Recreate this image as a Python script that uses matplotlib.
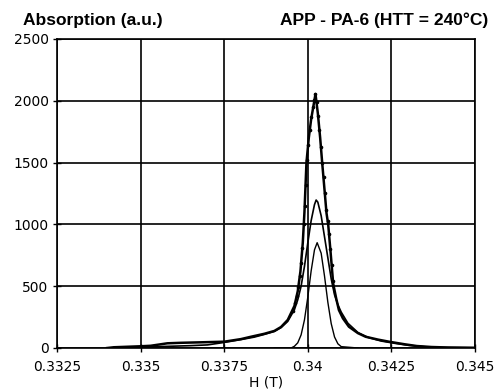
import matplotlib
matplotlib.use("Agg")
import matplotlib.pyplot as plt

# Magnetic field (T) and absorption (a.u.) of the overall EPR line
total_h = [0.3340, 0.3342, 0.3346, 0.3350, 0.3353, 0.3356, 0.3358, 0.3362, 0.3368,
           0.3375, 0.3380, 0.3383, 0.3387, 0.3390, 0.3392, 0.3394, 0.3396, 0.3397,
           0.33978, 0.33985, 0.33990, 0.33996, 0.34003, 0.34010, 0.34017, 0.34023,
           0.34030, 0.34037, 0.34043, 0.34050, 0.34056, 0.34061, 0.34068, 0.34076,
           0.34085, 0.34093, 0.34105, 0.34123, 0.34150, 0.34173, 0.34210, 0.34243,
           0.34290, 0.34326, 0.3437, 0.3442, 0.3450]
total_abs = [0, 6, 10, 14, 18, 30, 38, 42, 46,
             51, 72, 91, 115, 138, 170, 227, 340, 460,
             620, 850, 1100, 1500, 1700, 1850, 1960, 2055,
             1900, 1700, 1500, 1280, 1090, 1000, 780, 520,
             400, 307, 240, 172, 120, 91, 68, 51,
             30, 16, 8, 4, 2]

# Measured points around the resonance
meas_h = [0.33955, 0.33962, 0.33967, 0.33972, 0.33976, 0.33980, 0.33984, 0.33988,
          0.33991, 0.33994, 0.33997, 0.34001, 0.34006, 0.34011, 0.34016, 0.34020,
          0.34023, 0.34027, 0.34031, 0.34035, 0.34039, 0.34043, 0.34047, 0.34051,
          0.34055, 0.34059, 0.34063, 0.34067, 0.34071, 0.34075]
meas_abs = [300, 362, 420, 490, 580, 690, 810, 1000,
            1150, 1320, 1520, 1640, 1760, 1870, 1950, 2010,
            2055, 1990, 1880, 1760, 1630, 1500, 1380, 1250,
            1120, 1030, 920, 800, 670, 540]

# Broad component
broad_h = [0.3340, 0.3345, 0.3350, 0.3355, 0.3360, 0.3365, 0.3370, 0.3375, 0.3380,
           0.3384, 0.3387, 0.3390, 0.3392, 0.3394, 0.3396, 0.3397, 0.3398, 0.3399,
           0.3400, 0.3401, 0.3402, 0.34025, 0.3403, 0.3404, 0.3405, 0.3406, 0.3407,
           0.3408, 0.3409, 0.3410, 0.3412, 0.3415, 0.3418, 0.3422, 0.3426, 0.3430,
           0.3435, 0.3440, 0.3450]
broad_abs = [0, 3, 7, 11, 15, 19, 25, 45, 68,
             88, 110, 134, 165, 215, 310, 390, 500, 660,
             850, 1030, 1160, 1197, 1180, 1070, 900, 730, 560,
             430, 350, 290, 200, 125, 86, 56, 38, 22,
             10, 4, 1]

# Narrow component
narrow_h = [0.3390, 0.3395, 0.3396, 0.3397, 0.3398, 0.3399, 0.3400, 0.3401, 0.3402,
            0.34028, 0.3404, 0.3405, 0.3406, 0.3407, 0.3408, 0.3409, 0.3410, 0.3415]
narrow_abs = [0, 0, 14, 42, 106, 227, 411, 623, 794,
              852, 767, 582, 370, 198, 89, 34, 11, 0]

x_ticks = [0.3325, 0.335, 0.3375, 0.34, 0.3425, 0.345]
x_tick_labels = ["0.3325", "0.335", "0.3375", "0.34", "0.3425", "0.345"]
y_ticks = [0, 500, 1000, 1500, 2000, 2500]

fig = plt.figure(figsize=(4.97, 3.90), dpi=100)
ax = fig.add_axes([0.1147, 0.1077, 0.8410, 0.7923])

ax.plot(narrow_h, narrow_abs, color="black", lw=1.0, zorder=3)
ax.plot(broad_h, broad_abs, color="black", lw=1.2, zorder=3)
ax.plot(total_h, total_abs, color="black", lw=1.8, zorder=4)
ax.plot(meas_h, meas_abs, linestyle="none", marker="o", ms=1.6,
        color="black", zorder=5)

ax.set_xlim(0.3325, 0.345)
ax.set_ylim(0, 2500)
ax.set_xticks(x_ticks)
ax.set_xticklabels(x_tick_labels)
ax.set_yticks(y_ticks)
ax.grid(True, color="black", lw=1.2)
ax.set_axisbelow(True)
for s in ax.spines.values():
    s.set_linewidth(1.2)
ax.tick_params(direction="inout", length=6, width=1.0, labelsize=10,
               colors="black")
ax.tick_params(axis="x", pad=6)
ax.tick_params(axis="y", pad=3)
ax.set_xlabel("H (T)", fontsize=10, labelpad=1)

fig.text(0.046, 0.947, "Absorption (a.u.)", fontsize=12.5, fontweight="bold",
         family="Liberation Sans", va="center", ha="left")
fig.text(0.982, 0.947, "APP - PA-6 (HTT = 240°C)", fontsize=12.5,
         fontweight="bold", family="Liberation Sans", va="center", ha="right")

fig.savefig("out.png", dpi=100)
